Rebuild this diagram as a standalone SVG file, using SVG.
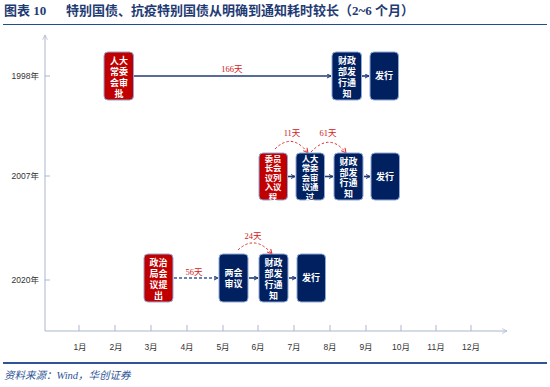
<svg xmlns="http://www.w3.org/2000/svg" width="550" height="387" viewBox="0 0 550 387">
<defs>
<style>
.title{font-family:"Liberation Serif","Noto Sans CJK SC",serif;font-weight:bold;font-size:13px;fill:#1F3B73}
.axis{stroke:#A9B6CE;stroke-width:1;fill:none}
.lbl{font-family:"Liberation Sans","Noto Sans CJK SC",sans-serif;font-size:8.5px;fill:#333}
.red{fill:#C00000;stroke:#8FA8D8;stroke-width:1}
.blue{fill:#002060;stroke:#8FA8D8;stroke-width:1}
.bt{font-family:"Liberation Sans","Noto Sans CJK SC",sans-serif;font-weight:bold;font-size:9px;fill:#fff;text-anchor:middle}
.bt5{font-size:8.4px}
.days{font-family:"Liberation Serif","Noto Sans CJK SC",serif;font-size:8.5px;fill:#D02020;text-anchor:middle}
.conn{stroke:#1F3B73;stroke-width:1.6;fill:none}
.dash{stroke:#3A5A9A;stroke-width:1.4;stroke-dasharray:3 2;fill:none}
.rdash{stroke:#E03030;stroke-width:1;stroke-dasharray:2.5 2;fill:none}
</style>
<marker id="ab" viewBox="0 0 10 10" refX="9" refY="5" markerWidth="5" markerHeight="5" orient="auto" markerUnits="userSpaceOnUse"><path d="M1,1 L9,5 L1,9" fill="none" stroke="#1F3B73" stroke-width="2"/></marker>
<marker id="ar" viewBox="0 0 10 10" refX="9" refY="5" markerWidth="6" markerHeight="6" orient="auto" markerUnits="userSpaceOnUse"><path d="M1,1 L9,5 L1,9" fill="none" stroke="#E03030" stroke-width="1.8"/></marker>
<marker id="aa" viewBox="0 0 10 10" refX="9" refY="5" markerWidth="6" markerHeight="6" orient="auto" markerUnits="userSpaceOnUse"><path d="M1,1 L9,5 L1,9" fill="none" stroke="#A9B6CE" stroke-width="1.2"/></marker>
</defs>
<rect width="550" height="387" fill="#fff"/>
<g id="header">
<text class="title" x="4" y="15">图表 10</text>
<text class="title" x="66" y="15">特别国债、抗疫特别国债从明确到通知耗时较长（2~6 个月）</text>
<line x1="3" y1="24.5" x2="547" y2="24.5" stroke="#1F4E99" stroke-width="1.2"/>
</g>
<g id="axes">
<line class="axis" x1="45" y1="331" x2="45" y2="35" marker-end="url(#aa)"/>
<line class="axis" x1="45" y1="331" x2="507" y2="331" marker-end="url(#aa)"/>
<path class="axis" d="M45,76h5M45,176h5M45,280h5"/>
<path class="axis" d="M79,325v6M115,325v6M151,325v6M187,325v6M223,325v6M258,325v6M294,325v6M330,325v6M366,325v6M401,325v6M436,325v6M471,325v6"/>
<g class="lbl" text-anchor="end">
<text x="39" y="79">1998年</text>
<text x="39" y="179">2007年</text>
<text x="39" y="283">2020年</text>
</g>
<g class="lbl" text-anchor="middle">
<text x="80" y="350">1月</text><text x="116" y="350">2月</text><text x="151" y="350">3月</text><text x="187" y="350">4月</text><text x="223" y="350">5月</text><text x="258" y="350">6月</text><text x="294" y="350">7月</text><text x="330" y="350">8月</text><text x="366" y="350">9月</text><text x="401" y="350">10月</text><text x="436" y="350">11月</text><text x="471" y="350">12月</text>
</g>
</g>
<g id="connectors">
<line class="conn" x1="134" y1="76" x2="331" y2="76" marker-end="url(#ab)"/>
<line class="conn" x1="362" y1="76" x2="369" y2="76" marker-end="url(#ab)"/>
<line class="conn" x1="288" y1="176.5" x2="295" y2="176.5" marker-end="url(#ab)"/>
<line class="conn" x1="325" y1="176.5" x2="333" y2="176.5" marker-end="url(#ab)"/>
<line class="conn" x1="364" y1="176.5" x2="370" y2="176.5" marker-end="url(#ab)"/>
<line class="dash" x1="174" y1="278" x2="218" y2="278" marker-end="url(#ab)"/>
<line class="conn" x1="249" y1="278" x2="258" y2="278" marker-end="url(#ab)"/>
<line class="conn" x1="289" y1="278" x2="296" y2="278" marker-end="url(#ab)"/>
<path class="rdash" d="M275,149 Q292,132 308,153" marker-end="url(#ar)"/>
<path class="rdash" d="M311,152 Q330,132 346,153" marker-end="url(#ar)"/>
<path class="rdash" d="M238,250 Q255,234 272,254" marker-end="url(#ar)"/>
<text class="days" x="232" y="72">166天</text>
<text class="days" x="292" y="136">11天</text>
<text class="days" x="328" y="136">61天</text>
<text class="days" x="194" y="275">56天</text>
<text class="days" x="253" y="239">24天</text>
</g>
<g id="n1998a"><rect class="red" x="104" y="52" width="29.5" height="48" rx="4"/>
<text class="bt" x="119" y="64"><tspan x="119">人大</tspan><tspan x="119" dy="11">常委</tspan><tspan x="119" dy="11">会审</tspan><tspan x="119" dy="11">批</tspan></text></g>
<g id="n1998b"><rect class="blue" x="332" y="52" width="29.5" height="48" rx="4"/>
<text class="bt" x="347" y="64"><tspan x="347">财政</tspan><tspan x="347" dy="11">部发</tspan><tspan x="347" dy="11">行通</tspan><tspan x="347" dy="11">知</tspan></text></g>
<g id="n1998c"><rect class="blue" x="370" y="52" width="28.5" height="48" rx="4"/>
<text class="bt" x="384" y="79">发行</text></g>
<g id="n2007a"><rect class="red" x="259" y="153" width="28.5" height="47" rx="4"/>
<text class="bt bt5" x="273" y="161.5"><tspan x="273">委员</tspan><tspan x="273" dy="9.5">长会</tspan><tspan x="273" dy="9.5">议列</tspan><tspan x="273" dy="9.5">入议</tspan><tspan x="273" dy="9.5">程</tspan></text></g>
<g id="n2007b"><rect class="blue" x="296" y="153" width="28.5" height="47" rx="4"/>
<text class="bt bt5" x="310" y="161.5"><tspan x="310">人大</tspan><tspan x="310" dy="9.5">常委</tspan><tspan x="310" dy="9.5">会审</tspan><tspan x="310" dy="9.5">议通</tspan><tspan x="310" dy="9.5">过</tspan></text></g>
<g id="n2007c"><rect class="blue" x="334" y="153" width="29" height="47" rx="4"/>
<text class="bt" x="348.5" y="165"><tspan x="348.5">财政</tspan><tspan x="348.5" dy="10.5">部发</tspan><tspan x="348.5" dy="10.5">行通</tspan><tspan x="348.5" dy="10.5">知</tspan></text></g>
<g id="n2007d"><rect class="blue" x="371" y="153" width="28.5" height="47" rx="4"/>
<text class="bt" x="385" y="180">发行</text></g>
<g id="n2020a"><rect class="red" x="144" y="254" width="29" height="48" rx="4"/>
<text class="bt" x="158.5" y="266"><tspan x="158.5">政治</tspan><tspan x="158.5" dy="11">局会</tspan><tspan x="158.5" dy="11">议提</tspan><tspan x="158.5" dy="11">出</tspan></text></g>
<g id="n2020b"><rect class="blue" x="219" y="254" width="29" height="48" rx="4"/>
<text class="bt" x="233.5" y="276"><tspan x="233.5">两会</tspan><tspan x="233.5" dy="11">审议</tspan></text></g>
<g id="n2020c"><rect class="blue" x="259" y="254" width="29" height="48" rx="4"/>
<text class="bt" x="273.5" y="266"><tspan x="273.5">财政</tspan><tspan x="273.5" dy="11">部发</tspan><tspan x="273.5" dy="11">行通</tspan><tspan x="273.5" dy="11">知</tspan></text></g>
<g id="n2020d"><rect class="blue" x="297" y="254" width="28.5" height="48" rx="4"/>
<text class="bt" x="311" y="281">发行</text></g>
<g id="footer">
<line x1="3" y1="363" x2="547" y2="363" stroke="#2E5597" stroke-width="2"/>
<text x="4" y="379" font-family="Liberation Serif,Noto Sans CJK SC,serif" font-style="italic" font-size="10.5px" fill="#2E5597">资料来源：Wind，华创证券</text>
</g>
</svg>
